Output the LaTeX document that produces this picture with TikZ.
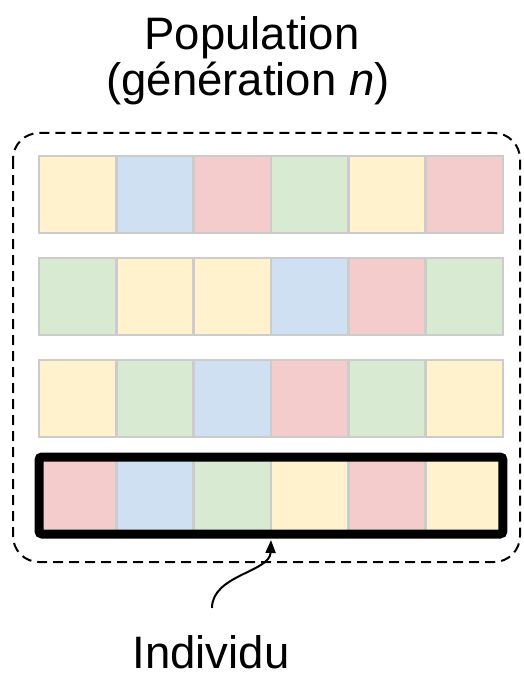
\documentclass[tikz,border=0pt]{standalone}
\usepackage{fontspec}
\setmainfont{Liberation Sans}
\usetikzlibrary{arrows.meta}
\definecolor{cY}{HTML}{FFF2CC}
\definecolor{cB}{HTML}{CFE0F3}
\definecolor{cR}{HTML}{F4CCCC}
\definecolor{cG}{HTML}{D9EAD3}
\definecolor{cellline}{HTML}{CCCCCC}
\tikzset{
  cell/.style={draw=cellline, line width=2.5pt, minimum width=77.33pt, minimum height=77pt, inner sep=0pt, outer sep=0pt, anchor=north west},
  popbox/.style={draw=black, line width=2pt, dash pattern=on 10pt off 6pt, rounded corners=26pt},
  indbox/.style={draw=black, line width=9pt, rounded corners=3pt},
  title/.style={font=\fontsize{45.5}{48}\selectfont, align=center, inner sep=0pt},
  curvearrow/.style={line width=2pt, -{Triangle[length=13pt,width=10pt]}}
}
\begin{document}
\begin{tikzpicture}[x=1pt,y=-1pt]
\useasboundingbox (0,0) rectangle (523,679);
\node[title, anchor=base] (t1) at (252,50) {Population};
\node[title, anchor=base] (t2) at (248,96) {(génération \textit{n})};
\draw[popbox] (13,133) rectangle (520,562);
\foreach \r/\y/\cols in {1/156/{cY,cB,cR,cG,cY,cR},2/258/{cG,cY,cY,cB,cR,cG},3/360/{cY,cG,cB,cR,cG,cY},4/457/{cR,cB,cG,cY,cR,cY}}{
  \foreach \c [count=\i from 0] in \cols {
    \node[cell, fill=\c] (c\r-\i) at ({39+\i*77.33},\y) {};
  }
}
\draw[indbox] (c4-0.north west) rectangle (c4-5.south east);
\node[title, anchor=base] (lbl) at (211,668) {Individu};
\coordinate (s) at (212,608);
\draw[curvearrow] (s) .. controls (212,575) and (270,572) .. ([yshift=-6pt]c4-2.south east);
\end{tikzpicture}
\end{document}
